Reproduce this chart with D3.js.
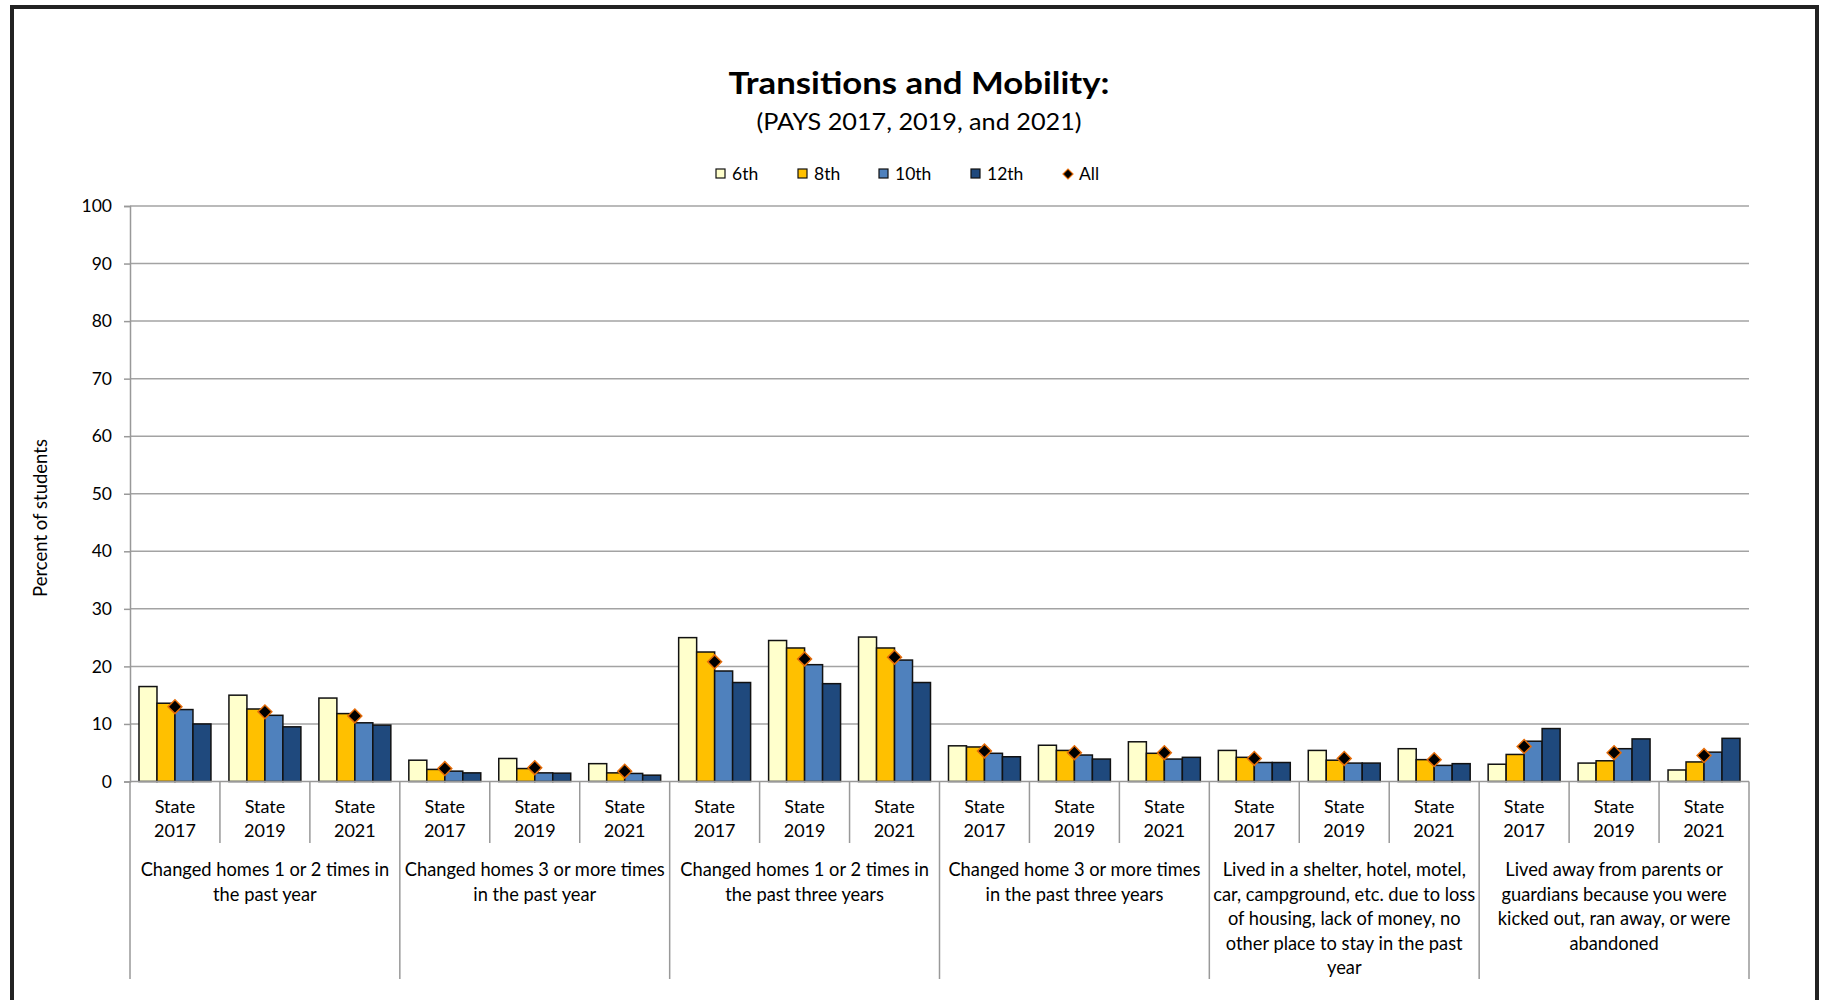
<!DOCTYPE html>
<html>
<head>
<meta charset="utf-8">
<script src="https://cdn.jsdelivr.net/npm/d3@7"></script>
<style>
  html, body { margin: 0; padding: 0; background: #fff; }
  svg { display: block; }
  text { font-family: Lato, "Open Sans", sans-serif; fill: #000; }
</style>
</head>
<body>
<script>
// ---------- data ----------
const years = ["2017", "2019", "2021"];
const groupLabels = [
  ["Changed homes 1 or 2 times in", "the past year"],
  ["Changed homes 3 or more times", "in the past year"],
  ["Changed homes 1 or 2 times in", "the past three years"],
  ["Changed home 3 or more times", "in the past three years"],
  ["Lived in a shelter, hotel, motel,", "car, campground, etc. due to loss", "of housing, lack of money, no", "other place to stay in the past", "year"],
  ["Lived away from parents or", "guardians because you were", "kicked out, ran away, or were", "abandoned"]
];
const seriesNames = ["6th", "8th", "10th", "12th"];
const grade6  = [16.5, 15.0, 14.5, 3.7, 4.0, 3.1, 25.0, 24.5, 25.1, 6.2, 6.3, 6.9, 5.4, 5.4, 5.7, 3.0, 3.2, 2.0];
const grade8  = [13.6, 12.6, 11.8, 2.1, 2.25, 1.5, 22.5, 23.2, 23.2, 6.0, 5.4, 4.9, 4.2, 3.7, 3.8, 4.7, 3.6, 3.4];
const grade10 = [12.5, 11.5, 10.2, 1.8, 1.5, 1.4, 19.2, 20.3, 21.1, 4.9, 4.6, 3.9, 3.3, 3.2, 2.8, 7.0, 5.7, 5.1];
const grade12 = [10.0, 9.5, 9.8, 1.5, 1.45, 1.1, 17.2, 17.0, 17.2, 4.3, 3.9, 4.2, 3.3, 3.2, 3.1, 9.2, 7.4, 7.5];
const allGrades = [13.0, 12.1, 11.4, 2.25, 2.4, 1.8, 20.8, 21.3, 21.6, 5.3, 5.0, 5.0, 4.0, 4.0, 3.8, 6.1, 5.0, 4.5];
const yTicks = [0, 10, 20, 30, 40, 50, 60, 70, 80, 90, 100];
const colors = ["#FFFFCC", "#FFC000", "#4F81BD", "#1F497D"];

const seriesValues = [grade6, grade8, grade10, grade12];

// categories: group index x year
const categories = [];
groupLabels.forEach((g, gi) => years.forEach(yr => categories.push({ id: gi + "-" + yr, group: gi, year: yr })));

// ---------- layout ----------
const W = 1828, H = 1000;
const plotLeft = 130, plotRight = 1749, plotTop = 206, plotBottom = 781.5;

const svg = d3.select("body").append("svg").attr("width", W).attr("height", H);

// outer frame
svg.append("rect").attr("x", 12).attr("y", 7).attr("width", 1805).attr("height", 1100)
  .attr("fill", "none").attr("stroke", "#222").attr("stroke-width", 4);

const x = d3.scaleBand().domain(categories.map(d => d.id)).range([plotLeft, plotRight]).paddingInner(0).paddingOuter(0);
const bw = x.bandwidth();
const xs = d3.scaleBand().domain(seriesNames).range([bw * 0.1, bw * 0.9]).padding(0);
const y = d3.scaleLinear().domain([0, 100]).range([plotBottom, plotTop]);

// gridlines
svg.append("g").selectAll("line").data(yTicks.filter(t => t > 0)).join("line")
  .attr("x1", plotLeft).attr("x2", plotRight)
  .attr("y1", d => y(d)).attr("y2", d => y(d))
  .attr("stroke", "#a3a3a3").attr("stroke-width", 1.5);

// y axis
const yAxis = d3.axisLeft(y).tickValues(yTicks).tickSize(6).tickPadding(12);
const gy = svg.append("g").attr("transform", `translate(${plotLeft},0)`).call(yAxis);
gy.select(".domain").attr("stroke", "#999").attr("stroke-width", 1.5);
gy.selectAll(".tick line").attr("stroke", "#999").attr("stroke-width", 1.5);
gy.selectAll(".tick text").attr("font-size", 17.5).attr("font-family", "Lato, sans-serif").attr("fill", "#000");

// y axis title
svg.append("text").attr("transform", "translate(47,518) rotate(-90)")
  .attr("text-anchor", "middle").attr("font-size", 18.5).text("Percent of students");

// bars
const barG = svg.append("g");
seriesNames.forEach((s, si) => {
  barG.append("g").selectAll("rect").data(categories).join("rect")
    .attr("x", (d) => x(d.id) + xs(s))
    .attr("y", (d, i) => y(seriesValues[si][i]))
    .attr("width", xs.bandwidth())
    .attr("height", (d, i) => y(0) - y(seriesValues[si][i]))
    .attr("fill", colors[si])
    .attr("stroke", "#111").attr("stroke-width", 1.5);
});

// x axis baseline
svg.append("line").attr("x1", plotLeft).attr("x2", plotRight).attr("y1", plotBottom).attr("y2", plotBottom)
  .attr("stroke", "#999").attr("stroke-width", 1.5);

// separators: year level and group level
const sepG = svg.append("g");
categories.forEach((d, i) => {
  const xx = x(d.id);
  const isGroup = i % 3 === 0;
  sepG.append("line").attr("x1", xx).attr("x2", xx).attr("y1", plotBottom)
    .attr("y2", isGroup ? 979 : 843).attr("stroke", "#999").attr("stroke-width", 1.5);
});
sepG.append("line").attr("x1", plotRight).attr("x2", plotRight).attr("y1", plotBottom).attr("y2", 979)
  .attr("stroke", "#999").attr("stroke-width", 1.5);

// category labels
const catG = svg.append("g").attr("font-size", 18).attr("text-anchor", "middle");
categories.forEach(d => {
  const cx = x(d.id) + bw / 2;
  catG.append("text").attr("x", cx).attr("y", 813).text("State");
  catG.append("text").attr("x", cx).attr("y", 837).text(d.year);
});

// group labels
groupLabels.forEach((lines, gi) => {
  const cx = x(gi + "-2019") + bw / 2;
  lines.forEach((ln, li) => {
    catG.append("text").attr("x", cx).attr("y", 876 + li * 24.5).attr("font-size", 18.3).text(ln);
  });
});

// "All" diamonds
const diamond = d3.symbol().type(d3.symbolSquare).size(96);
svg.append("g").selectAll("path").data(categories).join("path")
  .attr("d", diamond)
  .attr("transform", (d, i) => `translate(${x(d.id) + bw / 2},${y(allGrades[i])}) rotate(45)`)
  .attr("fill", "#000").attr("stroke", "#E46C0A").attr("stroke-width", 1.5);

// title
svg.append("text").attr("x", 919).attr("y", 94).attr("text-anchor", "middle")
  .attr("font-size", 31).attr("font-weight", "bold")
  .attr("textLength", 381).attr("lengthAdjust", "spacingAndGlyphs")
  .text("Transitions and Mobility:");
svg.append("text").attr("x", 919).attr("y", 130).attr("text-anchor", "middle")
  .attr("font-size", 23).attr("textLength", 325).attr("lengthAdjust", "spacingAndGlyphs")
  .text("(PAYS 2017, 2019, and 2021)");

// legend
const legendItems = seriesNames.map((s, i) => ({ name: s, color: colors[i], x: [716, 798, 879, 971][i] }));
const lg = svg.append("g");
legendItems.forEach(it => {
  lg.append("rect").attr("x", it.x).attr("y", 169).attr("width", 9).attr("height", 9)
    .attr("fill", it.color).attr("stroke", "#111").attr("stroke-width", 1.2);
  lg.append("text").attr("x", it.x + 16).attr("y", 180).attr("font-size", 17.5).text(it.name);
});
lg.append("path").attr("d", d3.symbol().type(d3.symbolSquare).size(50))
  .attr("transform", "translate(1068,174) rotate(45)")
  .attr("fill", "#000").attr("stroke", "#E46C0A").attr("stroke-width", 1.2);
lg.append("text").attr("x", 1079).attr("y", 180).attr("font-size", 17.5).text("All");
</script>
</body>
</html>
